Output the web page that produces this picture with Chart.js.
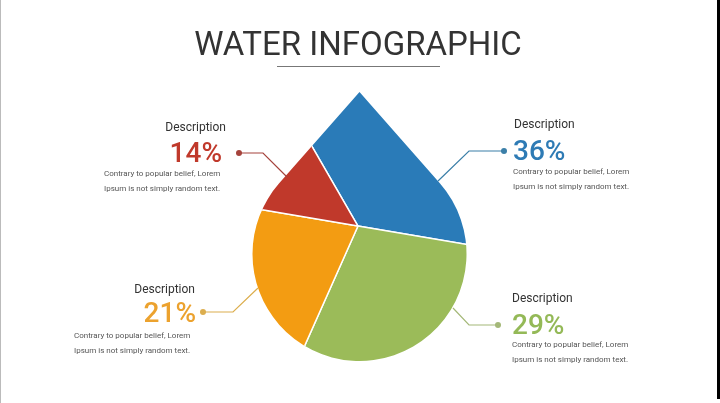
<!DOCTYPE html>
<html>
<head>
<meta charset="utf-8">
<script src="https://cdn.jsdelivr.net/npm/chart.js@4.4.1/dist/chart.umd.min.js"></script>
<style>
  body { margin: 0; background: #fff; font-family: Roboto, "Noto Sans", sans-serif; }
  #wrap { position: relative; width: 720px; height: 403px; overflow: hidden; background: #fff; }
  #wrap canvas { position: absolute; left: 0; top: 0; }
  .t { position: absolute; white-space: nowrap; }
  .titulo { left: 0; width: 716px; top: 24px; text-align: center; font-size: 33px; line-height: 40px; color: #333; font-weight: 400; }
  .raya { position: absolute; left: 277px; top: 66px; width: 163px; height: 1px; background: #777; }
  .desc { font-size: 12px; line-height: 14px; color: #333; }
  .pct { font-size: 28px; line-height: 28px; font-weight: 500; }
  .par { font-size: 8px; line-height: 15px; color: #555; }
  .borde { position: absolute; left: 717px; top: 0; width: 3px; height: 399px; background: #000; }
  .bordeIzq { position: absolute; left: 0; top: 0; width: 1px; height: 403px; background: #bbb; }
</style>
</head>
<body>
<div id="wrap">
  <canvas id="gotaChart" width="720" height="403"></canvas>
  <div class="t titulo">WATER INFOGRAPHIC</div>
  <div class="raya"></div>
  <div id="textos"></div>
  <div class="bordeIzq"></div>
  <div class="borde"></div>
</div>
<script>
// datos del grafico (orden en sentido horario, empezando por el azul)
const categorias = ['Azul', 'Verde', 'Naranja', 'Rojo'];
const porcentajes = [36, 29, 21, 14];
const colores = ['#2a7bb8', '#9bbb59', '#f39c12', '#c0392b'];
const coloresTexto = ['#2e7bb5', '#94b957', '#eca22e', '#c0392b'];
const coloresLinea = ['#3b7fa8', '#a4b878', '#dcae4e', '#a5433c'];
const titulos = ['Description', 'Description', 'Description', 'Description'];
const parrafo = ['Contrary to popular belief, Lorem', 'Ipsum is not simply random text.'];

// posicion de cada bloque de texto y de su linea guia
const bloques = [
    { lado: 'izq', desc: [514, 117], pct: [513, 137], par: [513, 164], linea: [[504, 151], [469, 151], [438, 181]] },
    { lado: 'izq', desc: [512, 291], pct: [512, 311], par: [512, 337], linea: [[498, 325], [469, 325], [453, 308]] },
    { lado: 'der', desc: [195, 282], pct: [196, 299], par: [74, 328], linea: [[203, 312], [233, 312], [258, 288]] },
    { lado: 'der', desc: [226, 120], pct: [222, 139], par: [104, 166], linea: [[239, 153], [263, 153], [287, 177]] }
];

// forma de la gota: circulo inferior + punta
const gota = { cx: 359.5, cy: 254, r: 107, puntaY: 92 };

let html = '';
bloques.forEach((b, i) => {
    const pos = (p) => b.lado === 'izq' ? `left:${p[0]}px;` : `right:${720 - p[0]}px;text-align:right;`;
    html += `<div class="t desc" style="${pos(b.desc)}top:${b.desc[1]}px">${titulos[i]}</div>`;
    html += `<div class="t pct" style="${pos(b.pct)}top:${b.pct[1]}px;color:${coloresTexto[i]}">${porcentajes[i]}%</div>`;
    html += `<div class="t par" style="left:${b.par[0]}px;top:${b.par[1]}px">${parrafo[0]}<br>${parrafo[1]}</div>`;
});
document.getElementById('textos').innerHTML = html;

function caminoGota(ctx) {
    const d = gota.cy - gota.puntaY;
    const a = Math.acos(gota.r / d);
    const angDer = -Math.PI / 2 + a;
    const angIzq = -Math.PI / 2 - a;
    ctx.beginPath();
    ctx.moveTo(gota.cx, gota.puntaY);
    ctx.lineTo(gota.cx + gota.r * Math.cos(angDer), gota.cy + gota.r * Math.sin(angDer));
    ctx.arc(gota.cx, gota.cy, gota.r, angDer, angIzq + Math.PI * 2, false);
    ctx.closePath();
}

const recorteGota = {
    id: 'recorteGota',
    beforeDatasetsDraw(chart) {
        const ctx = chart.ctx;
        ctx.save();
        caminoGota(ctx);
        ctx.clip();
    },
    afterDatasetsDraw(chart) {
        const ctx = chart.ctx;
        ctx.restore();
        // lineas guia con su punto
        bloques.forEach((b, i) => {
            ctx.save();
            ctx.strokeStyle = coloresLinea[i];
            ctx.fillStyle = coloresLinea[i];
            ctx.lineWidth = 1.2;
            ctx.beginPath();
            b.linea.forEach((p, k) => k === 0 ? ctx.moveTo(p[0], p[1]) : ctx.lineTo(p[0], p[1]));
            ctx.stroke();
            ctx.beginPath();
            ctx.arc(b.linea[0][0], b.linea[0][1], 3, 0, Math.PI * 2);
            ctx.fill();
            ctx.restore();
        });
    }
};

const ctx = document.getElementById('gotaChart').getContext('2d');
new Chart(ctx, {
    type: 'pie',
    data: {
        labels: categorias,
        datasets: [{
            data: porcentajes,
            backgroundColor: colores,
            borderColor: '#ffffff',
            borderWidth: 1.5
        }]
    },
    options: {
        responsive: false,
        animation: false,
        rotation: -30,
        radius: 150,
        layout: { padding: { left: 218, right: 222, top: 86, bottom: 37 } },
        plugins: {
            legend: { display: false },
            tooltip: { enabled: false }
        }
    },
    plugins: [recorteGota]
});
</script>
</body>
</html>
